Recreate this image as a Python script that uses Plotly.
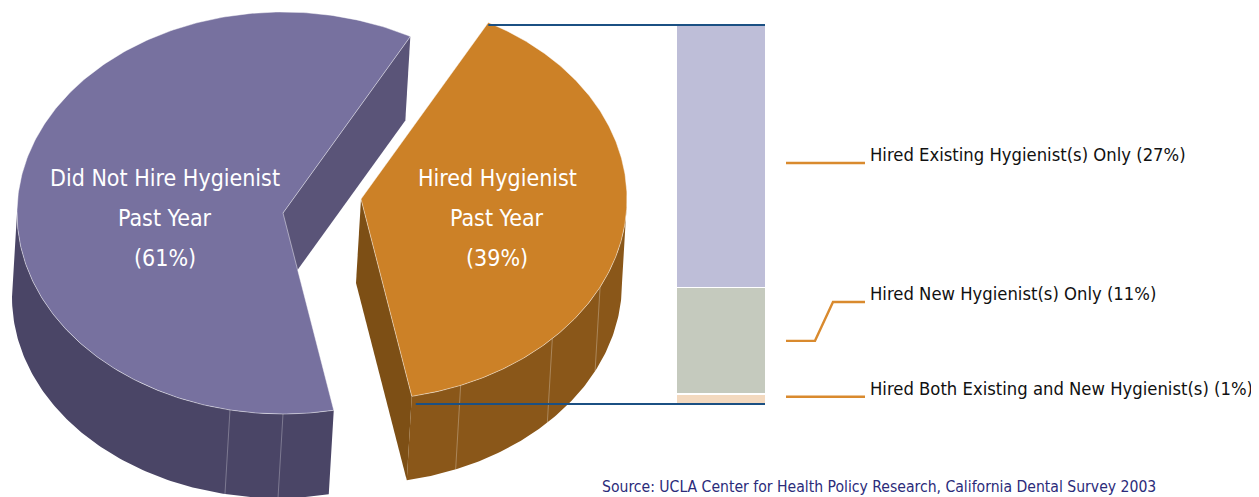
import numpy as np
import plotly.graph_objects as go

# ---------------- data ----------------
pie_lines = [["Did Not Hire Hygienist", "Past Year"], ["Hired Hygienist", "Past Year"]]
pie_values = [61, 39]
bar_categories = ["Hired Both Existing and New Hygienist(s)",
                  "Hired New Hygienist(s) Only",
                  "Hired Existing Hygienist(s) Only"]
bar_values = [1, 11, 27]
source_note = "Source: UCLA Center for Health Policy Research, California Dental Survey 2003"

# ---------------- style ----------------
W, H = 1259, 497
OFF = 8                    # page body margin compensation
RX, RY = 266, 201          # ellipse radii of pie top (px)
DX, DY = -5, 84            # extrusion offset of pie
START_DEG = -79.0          # 'Hired' slice starts here, runs counter-clockwise
CENTERS = [(283, 213), (361, 199)]   # [not hired, hired (exploded)]
TOP_COL = ["#77719f", "#cc8127"]
WALL_COL = ["#4a4566", "#8a5719"]
CUT_COL = ["#5a5478", "#7d4f15"]
SEAMS = [[258.5, 270.0], [-68.0, -44.0, -26.0]]
LABEL_POS = [(165, 178), (497, 178)]
LINE_GAP = 40
FONT = "DejaVu Sans Condensed, DejaVu Sans, sans-serif"
BAR_X, BAR_W = 721, 88
BAR_COLS = ["#f3d9bf", "#c5cabe", "#bebed8"]
BAR_TOP_PX, BAR_BOT_PX = 25, 404
BAR_RIGHT = 765
PAD = 0.8                  # extra y2 units around the bar so edge lines are not clipped
LEADER_X0, LEADER_X1 = 786, 865
ELBOW = (815, 833)
LABEL_Y = [0.75, 10.5, 24.8]   # y2 units where label text sits
NAVY = "#1b5083"
LEAD_COL = "#d98a2e"

fig = go.Figure()


def pt(c, t):
    r = np.radians(t)
    return c[0] + RX * np.cos(r), c[1] - RY * np.sin(r)


def poly(xs, ys, color, line=None):
    fig.add_trace(go.Scatter(
        x=list(xs), y=list(ys), mode="lines", fill="toself", fillcolor=color,
        line=line or dict(width=0, color=color), hoverinfo="skip", showlegend=False,
        xaxis="x", yaxis="y"))


tot = sum(pie_values)
a1 = START_DEG
b1 = START_DEG + 360.0 * pie_values[1] / tot
a0, b0 = b1, START_DEG + 360.0
angles = [(a0, b0), (a1, b1)]

for i in [0, 1]:
    a, b = angles[i]
    c = CENTERS[i]
    cb = (c[0] + DX, c[1] + DY)
    # visible cut face (start edge / end edge)
    if np.cos(np.radians(a)) > 0:
        px, py = pt(c, a)
        poly([c[0], px, px + DX, cb[0], c[0]], [c[1], py, py + DY, cb[1], c[1]], CUT_COL[i])
    if np.cos(np.radians(b)) < 0:
        px, py = pt(c, b)
        poly([c[0], px, px + DX, cb[0], c[0]], [c[1], py, py + DY, cb[1], c[1]], CUT_COL[i])
    # visible outer wall (front half)
    for k in (-1, 0, 1):
        lo, hi = max(a, 180 + 360 * k), min(b, 360 + 360 * k)
        if hi > lo:
            ts = np.linspace(lo, hi, 120)
            tx, ty = pt(c, ts)
            bx, by = pt(cb, ts[::-1])
            poly(np.concatenate([tx, bx, tx[:1]]), np.concatenate([ty, by, ty[:1]]), WALL_COL[i])
            for s in SEAMS[i]:
                for s2 in (s, s + 360, s - 360):
                    if lo < s2 < hi:
                        sx, sy = pt(c, s2)
                        fig.add_trace(go.Scatter(
                            x=[sx, sx + DX], y=[sy, sy + DY], mode="lines",
                            line=dict(color="rgba(255,255,255,0.28)", width=1),
                            hoverinfo="skip", showlegend=False))
    # top face
    ts = np.linspace(a, b, 300)
    tx, ty = pt(c, ts)
    poly(np.concatenate([[c[0]], tx, [c[0]]]), np.concatenate([[c[1]], ty, [c[1]]]),
         TOP_COL[i], line=dict(width=1, color="rgba(255,255,255,0.45)"))

# ---------------- stacked breakdown bar ----------------
for v, name, col in zip(bar_values, bar_categories, BAR_COLS):
    fig.add_trace(go.Bar(x=[BAR_X], y=[v], width=[BAR_W + 2], name=name,
                         marker=dict(color=col, line=dict(color="white", width=1.6)),
                         xaxis="x", yaxis="y2", hoverinfo="skip", showlegend=False))

bar_total = sum(bar_values)
# navy connector lines from exploded slice to bar
top_x, _ = pt(CENTERS[1], b1)
bot_x, _ = pt(CENTERS[1], a1)
for x0, yv in [(top_x, bar_total), (bot_x + 4, 0)]:
    fig.add_trace(go.Scatter(x=[x0, BAR_RIGHT], y=[yv, yv], mode="lines",
                             line=dict(color=NAVY, width=2.2), xaxis="x", yaxis="y2",
                             hoverinfo="skip", showlegend=False))

# leader lines + labels
cum = np.cumsum([0] + bar_values)
for j, (v, name) in enumerate(zip(bar_values, bar_categories)):
    mid = cum[j] + v / 2.0
    ly = LABEL_Y[j]
    if abs(mid - ly) > 2:
        xs = [LEADER_X0, ELBOW[0], ELBOW[1], LEADER_X1]
        ys = [mid, mid, ly, ly]
    else:
        xs = [LEADER_X0, LEADER_X1]
        ys = [ly, ly]
    fig.add_trace(go.Scatter(x=xs, y=ys, mode="lines", line=dict(color=LEAD_COL, width=2.4),
                             xaxis="x", yaxis="y2", hoverinfo="skip", showlegend=False))
    fig.add_annotation(x=LEADER_X1 + 3, y=ly, xref="x", yref="y2", xanchor="left",
                       yanchor="middle", yshift=8, showarrow=False,
                       text=f"{name} ({v}%)", font=dict(family=FONT, size=18.3, color="#111111"))

# pie labels
for i in [0, 1]:
    lines = pie_lines[i] + [f"({pie_values[i]}%)"]
    for k, ln in enumerate(lines):
        fig.add_annotation(x=LABEL_POS[i][0], y=LABEL_POS[i][1] + k * LINE_GAP, xref="x", yref="y",
                           xanchor="center", yanchor="middle", showarrow=False, text=ln,
                           font=dict(family=FONT, size=23, color="white"))

fig.add_annotation(x=600, y=487, xref="x", yref="y", xanchor="left", yanchor="middle",
                   showarrow=False, text=source_note,
                   font=dict(family=FONT, size=15.6, color="#2b2b7a"))

# y2 axis: bar_total units span BAR_BOT_PX..BAR_TOP_PX, padded by PAD units on both ends
px_per_unit = (BAR_BOT_PX - BAR_TOP_PX) / bar_total
dom_bot_px = BAR_BOT_PX + PAD * px_per_unit
dom_top_px = BAR_TOP_PX - PAD * px_per_unit

fig.update_layout(
    width=W, height=H, margin=dict(l=0, r=0, t=0, b=0),
    paper_bgcolor="rgba(0,0,0,0)", plot_bgcolor="rgba(0,0,0,0)",
    barmode="stack", showlegend=False,
    xaxis=dict(range=[OFF, W + OFF], visible=False, domain=[0, 1], fixedrange=True),
    yaxis=dict(range=[H + OFF, OFF], visible=False, domain=[0, 1], fixedrange=True),
    yaxis2=dict(range=[-PAD, bar_total + PAD], visible=False, anchor="x",
                domain=[1 - (dom_bot_px - OFF) / H, 1 - (dom_top_px - OFF) / H], fixedrange=True),
)

fig.write_html("out.html")
